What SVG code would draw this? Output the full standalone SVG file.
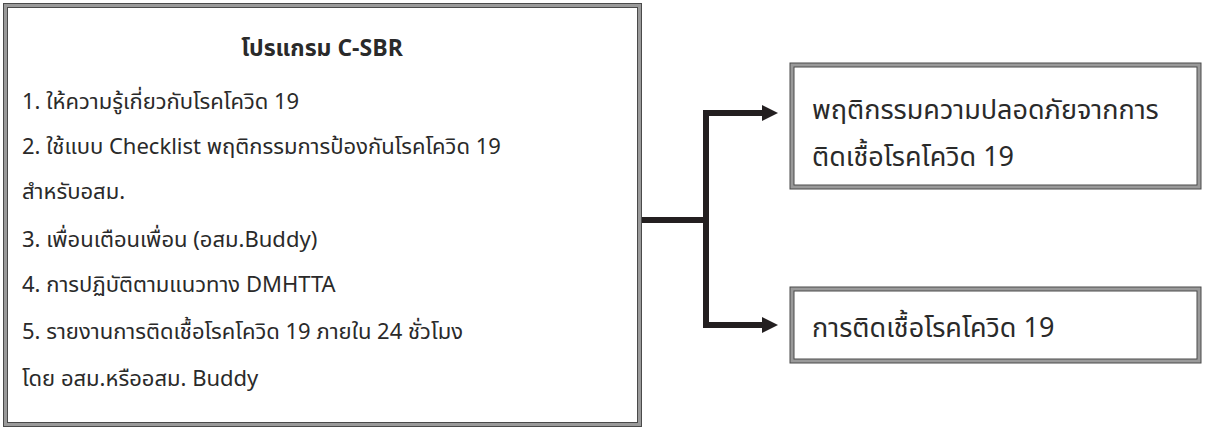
<svg xmlns="http://www.w3.org/2000/svg" width="1208" height="427" viewBox="0 0 1208 427">
<style>
.frame{fill:#fff;stroke:#9a9a9a;stroke-width:4}
.edge{fill:none;stroke:#4a4a4a;stroke-width:1}
.t{font-family:"Noto Sans Thai","Noto Sans","DejaVu Sans",sans-serif;font-size:22px;fill:#2a2a2a}
.big{font-size:27px}
.title{font-weight:bold;text-anchor:middle;font-size:23px}
.conn{fill:none;stroke:#231f20;stroke-width:6;stroke-linejoin:miter}
</style>
<defs>
<marker id="arr" viewBox="0 0 10 10" refX="2.6" refY="5" markerWidth="2.7" markerHeight="2.7" orient="auto" markerUnits="strokeWidth">
<path d="M0,0 L10,5 L0,10 z" fill="#231f20"/>
</marker>
</defs>
<g id="program">
<rect class="frame" x="5.5" y="5.5" width="634" height="419"/>
<rect class="edge" x="3.5" y="3.5" width="638" height="423"/>
<rect class="edge" x="7.5" y="7.5" width="630" height="415"/>
<text class="t title" x="322" y="56">โปรแกรม C-SBR</text>
<text class="t" x="22" y="109">1. ให้ความรู้เกี่ยวกับโรคโควิด 19</text>
<text class="t" x="22" y="154">2. ใช้แบบ Checklist พฤติกรรมการป้องกันโรคโควิด 19</text>
<text class="t" x="22" y="199">สำหรับอสม.</text>
<text class="t" x="22" y="247">3. เพื่อนเตือนเพื่อน (อสม.Buddy)</text>
<text class="t" x="22" y="292">4. การปฏิบัติตามแนวทาง DMHTTA</text>
<text class="t" x="22" y="339">5. รายงานการติดเชื้อโรคโควิด 19 ภายใน 24 ชั่วโมง</text>
<text class="t" x="22" y="386">โดย อสม.หรืออสม. Buddy</text>
</g>
<g id="safety">
<rect class="frame" x="792" y="65" width="407" height="122"/>
<rect class="edge" x="790" y="63" width="411" height="126"/>
<rect class="edge" x="794" y="67" width="403" height="118"/>
<text class="t big" x="812" y="119">พฤติกรรมความปลอดภัยจากการ</text>
<text class="t big" x="812" y="166">ติดเชื้อโรคโควิด 19</text>
</g>
<g id="infection">
<rect class="frame" x="792" y="289" width="407" height="72"/>
<rect class="edge" x="790" y="287" width="411" height="76"/>
<rect class="edge" x="794" y="291" width="403" height="68"/>
<text class="t big" x="812" y="337">การติดเชื้อโรคโควิด 19</text>
</g>
<g id="connectors">
<path class="conn" d="M642,220 H706"/>
<path class="conn" d="M706,220 V113 H766" marker-end="url(#arr)"/>
<path class="conn" d="M706,220 V325 H766" marker-end="url(#arr)"/>
</g>
</svg>
